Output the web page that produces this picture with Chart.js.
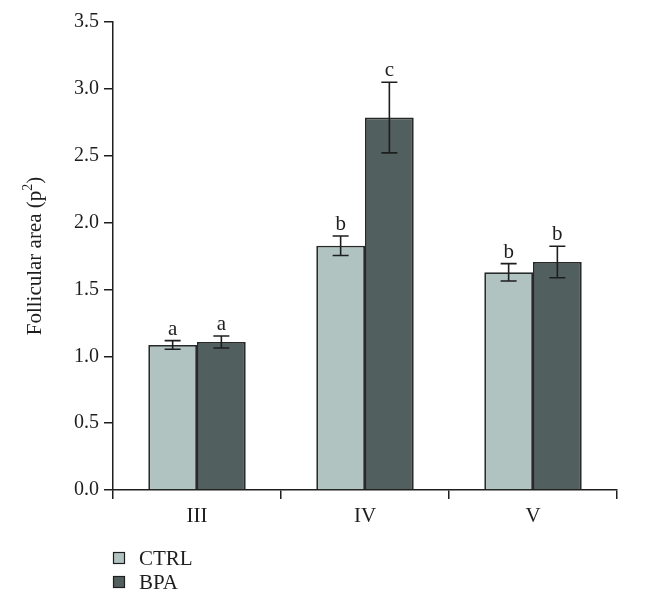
<!DOCTYPE html>
<html>
<head>
<meta charset="utf-8">
<script src="https://cdn.jsdelivr.net/npm/chart.js@4.4.0/dist/chart.umd.min.js"></script>
<style>
  html, body { margin: 0; padding: 0; background: #fff; }
  #wrap { width: 668px; height: 603px; }
</style>
</head>
<body>
<div id="wrap"><canvas id="chart"></canvas></div>
<script>
'use strict';

// Datos
var categorias = ['III', 'IV', 'V'];
var ctrlValores = [1.085, 1.827, 1.628];
var ctrlError = [0.032, 0.073, 0.065];
var bpaValores = [1.107, 2.785, 1.705];
var bpaError = [0.045, 0.264, 0.118];
var ctrlLetras = ['a', 'b', 'b'];
var bpaLetras = ['a', 'c', 'b'];
var yTicks = [0, 0.5, 1.0, 1.5, 2.0, 2.5, 3.0, 3.5];

var FUENTE = '"Liberation Serif", "DejaVu Serif", serif';
var TINTA = '#1e1e1e';

var errores = [ctrlError, bpaError];
var letras = [ctrlLetras, bpaLetras];

// Barras de error y letras
var errorBarsPlugin = {
  id: 'errorBars',
  afterDatasetsDraw: function (chart) {
    var ctx = chart.ctx;
    var y = chart.scales.y;
    ctx.save();
    ctx.strokeStyle = TINTA;
    ctx.lineWidth = 1.6;
    ctx.fillStyle = TINTA;
    ctx.font = '21px ' + FUENTE;
    ctx.textAlign = 'center';
    ctx.textBaseline = 'bottom';
    chart.data.datasets.forEach(function (ds, di) {
      var meta = chart.getDatasetMeta(di);
      meta.data.forEach(function (bar, i) {
        var v = ds.data[i];
        var e = errores[di][i];
        var top = y.getPixelForValue(v + e);
        var bot = y.getPixelForValue(v - e);
        var x = bar.x;
        var cap = 8;
        ctx.beginPath();
        ctx.moveTo(x, top); ctx.lineTo(x, bot);
        ctx.moveTo(x - cap, top); ctx.lineTo(x + cap, top);
        ctx.moveTo(x - cap, bot); ctx.lineTo(x + cap, bot);
        ctx.stroke();
        ctx.fillText(letras[di][i], x, top - 1);
      });
    });
    ctx.restore();
  }
};

// Título del eje Y con superíndice
var tituloYPlugin = {
  id: 'tituloY',
  afterDraw: function (chart) {
    var ctx = chart.ctx;
    var area = chart.chartArea;
    var cy = (area.top + area.bottom) / 2;
    var base = 'Follicular area (p';
    var sup = '2';
    var fin = ')';
    ctx.save();
    ctx.translate(35, cy);
    ctx.rotate(-Math.PI / 2);
    ctx.fillStyle = TINTA;
    ctx.textBaseline = 'middle';
    ctx.textAlign = 'left';
    ctx.font = '21px ' + FUENTE;
    var wBase = ctx.measureText(base).width;
    var wFin = ctx.measureText(fin).width;
    ctx.font = '14px ' + FUENTE;
    var wSup = ctx.measureText(sup).width;
    var x = -(wBase + wSup + wFin) / 2;
    ctx.font = '21px ' + FUENTE;
    ctx.fillText(base, x, 0);
    ctx.font = '14px ' + FUENTE;
    ctx.fillText(sup, x + wBase, -7);
    ctx.font = '21px ' + FUENTE;
    ctx.fillText(fin, x + wBase + wSup, 0);
    ctx.restore();
  }
};

// Leyenda vertical abajo a la izquierda
var leyendaPlugin = {
  id: 'leyendaVertical',
  afterDraw: function (chart) {
    var ctx = chart.ctx;
    var x0 = chart.chartArea.left;
    var y0 = chart.chartArea.bottom + 68;
    ctx.save();
    ctx.font = '21px ' + FUENTE;
    ctx.textBaseline = 'middle';
    ctx.textAlign = 'left';
    chart.data.datasets.forEach(function (ds, i) {
      var yy = y0 + i * 24;
      ctx.fillStyle = ds.backgroundColor;
      ctx.fillRect(x0, yy - 6, 12, 12);
      ctx.strokeStyle = TINTA;
      ctx.lineWidth = 1.2;
      ctx.strokeRect(x0 + 0.5, yy - 5.5, 11, 11);
      ctx.fillStyle = TINTA;
      ctx.fillText(ds.label, x0 + 26, yy + 1);
    });
    ctx.restore();
  }
};

var ctx = document.getElementById('chart').getContext('2d');
new Chart(ctx, {
  type: 'bar',
  data: {
    labels: categorias,
    datasets: [{
      label: 'CTRL',
      data: ctrlValores,
      backgroundColor: '#b1c3c1',
      borderColor: '#262a2a',
      borderWidth: 1.8
    }, {
      label: 'BPA',
      data: bpaValores,
      backgroundColor: '#51605f',
      borderColor: '#262a2a',
      borderWidth: 1.8
    }]
  },
  options: {
    responsive: true,
    maintainAspectRatio: false,
    animation: false,
    layout: { padding: { left: 18, right: 51, top: 22, bottom: 0 } },
    datasets: { bar: { categoryPercentage: 0.58, barPercentage: 1.0 } },
    plugins: {
      legend: { display: false },
      tooltip: { enabled: false }
    },
    scales: {
      x: {
        afterFit: function (s) { s.height = 113; },
        grid: {
          offset: true,
          drawOnChartArea: false,
          drawTicks: true,
          tickLength: 9,
          color: TINTA,
          lineWidth: 1.5
        },
        border: { color: TINTA, width: 1.5 },
        ticks: {
          color: TINTA,
          padding: 5,
          font: { family: FUENTE, size: 21 }
        }
      },
      y: {
        min: 0,
        max: 3.5,
        afterFit: function (s) { s.width = 95; },
        afterBuildTicks: function (s) {
          s.ticks = yTicks.map(function (v) { return { value: v }; });
        },
        grid: {
          drawOnChartArea: false,
          drawTicks: true,
          tickLength: 9,
          color: TINTA,
          lineWidth: 1.5
        },
        border: { color: TINTA, width: 1.5 },
        ticks: {
          color: TINTA,
          padding: 5,
          font: { family: FUENTE, size: 20 },
          callback: function (v) { return Number(v).toFixed(1); }
        }
      }
    }
  },
  plugins: [errorBarsPlugin, tituloYPlugin, leyendaPlugin]
});
</script>
</body>
</html>
